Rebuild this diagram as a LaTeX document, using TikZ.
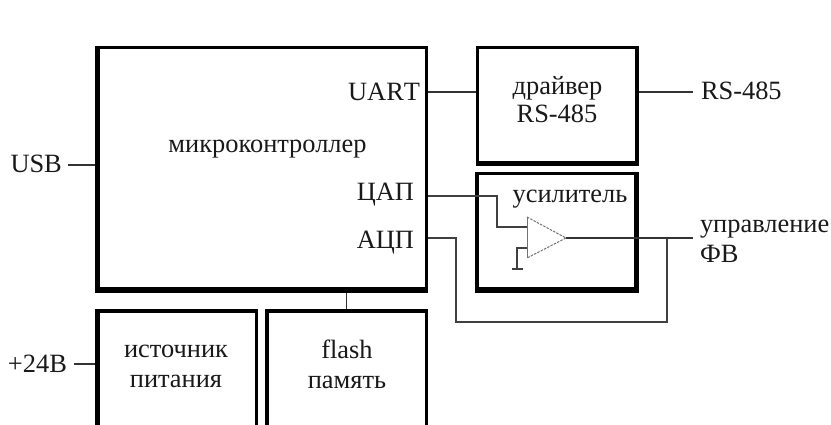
\documentclass[tikz,border=0pt]{standalone}
\usepackage{fontspec}
\setmainfont{Liberation Serif}
\tikzset{
 outerbox/.style={fill=black,inner sep=0pt,outer sep=0pt,rectangle},
 innerbox/.style={fill=white,inner sep=0pt,outer sep=0pt,rectangle},
 wire/.style={draw=black!80,line width=1.2pt},
 thinwire/.style={draw=black!75,line width=1.1pt},
 lbl/.style={inner sep=0pt,outer sep=0pt,font=\fontsize{26.4}{30}\selectfont,align=center,text=black!90},
 ampedge/.style={draw=black!55,line width=1pt},
 ampdash/.style={ampedge,dash pattern=on 2.5pt off 1.2pt},
}
\begin{document}
\begin{tikzpicture}[x=1pt,y=-1pt]
\useasboundingbox (0,0) rectangle (831,425);
\fill[white] (0,0) rectangle (831,425);
\clip (0,0) rectangle (831,425);
% blocks: black outer node with an off-centre white inner node (edges have unequal weight)
\node[outerbox,minimum width=333pt,minimum height=247pt] (main) at (261.5,169.5) {};
\node[innerbox,minimum width=324.5pt,minimum height=238pt] (maini) at (262.25,168) {};
\node[outerbox,minimum width=163.5pt,minimum height=120pt] (drv) at (557.25,106) {};
\node[innerbox,minimum width=156.5pt,minimum height=112pt] (drvi) at (556.75,105) {};
\node[outerbox,minimum width=164pt,minimum height=120.5pt] (amp) at (557,232.75) {};
\node[innerbox,minimum width=155pt,minimum height=111.5pt] (ampi) at (556.5,231.25) {};
\node[outerbox,minimum width=163pt,minimum height=136pt] (psu) at (176.5,377) {};
\node[innerbox,minimum width=155pt,minimum height=137pt] (psui) at (177.5,381.5) {};
\node[outerbox,minimum width=163pt,minimum height=136pt] (mem) at (346.5,377) {};
\node[innerbox,minimum width=156pt,minimum height=137pt] (memi) at (347,381.5) {};
% free connector ends and bend points
\coordinate (usbe) at (68,165);
\coordinate (pwre) at (74,364);
\coordinate (rse) at (693,92);
\coordinate (oute) at (693,238);
\coordinate (uy) at (450,92);
\coordinate (dacbend) at (497,196);
\coordinate (dacin) at (527,227);
\coordinate (gndin) at (527,248);
\coordinate (gndbar) at (517,269);
\coordinate (gl) at (512,269);
\coordinate (gr) at (523,269);
\coordinate (adcb) at (456,238);
\coordinate (adcc) at (456,322);
\coordinate (adcd) at (667,322);
\coordinate (adce) at (667,238);
% op-amp
\coordinate (ta) at (527,217);
\coordinate (tb) at (527,258);
\coordinate (tc) at (566,238);
\draw[ampedge] (ta) -- (tb);
\draw[ampdash] (ta) -- (tc) -- (tb);
% connectors
\draw[wire] (usbe) -- (main.west |- usbe);
\draw[wire] (pwre) -- (psu.west |- pwre);
\draw[wire] (main.east |- uy) -- (drv.west |- uy);
\draw[wire] (drv.east |- uy) -- (rse);
\draw[thinwire] (main.east |- dacbend) -- (dacbend) |- (dacin);
\draw[thinwire] (gndin) -| (gndbar);
\draw[thinwire] (gl) -- (gr);
\draw[thinwire] (main.east |- adcb) -- (adcb) -- (adcc) -- (adcd) -- (adce);
\draw[wire] (tc) -- (oute);
\draw[wire] (main.south -| mem.north) -- (mem.north);
% labels
\node[lbl,anchor=base west] (usb) at (10.5,172.5) {USB};
\node[lbl,anchor=base west] (pwr) at (8,372) {+24В};
\node[lbl,anchor=base east] (uart) at (420,101) {\addfontfeature{Kerning=Off}UART};
\node[lbl,anchor=base] (mc) at (267.5,153) {микроконтроллер};
\node[lbl,anchor=base east] (dac) at (414,201) {ЦАП};
\node[lbl,anchor=base east] (adc) at (414,249) {АЦП};
\node[lbl,anchor=base] (d1) at (557.5,95) {драйвер};
\node[lbl,anchor=base] (d2) at (557,123) {RS-485};
\node[lbl,anchor=base west] (rs) at (701,100) {RS-485};
\node[lbl,anchor=base] (ampl) at (570,203) {усилитель};
\node[lbl,anchor=base west] (o1) at (700,233) {управление};
\node[lbl,anchor=base west] (o2) at (700,262) {ФВ};
\node[lbl,anchor=base] (p1) at (176,357) {источник};
\node[lbl,anchor=base] (p2) at (176,387) {питания};
\node[lbl,anchor=base] (m1) at (347,358) {flash};
\node[lbl,anchor=base] (m2) at (347,388) {память};
\end{tikzpicture}
\end{document}
